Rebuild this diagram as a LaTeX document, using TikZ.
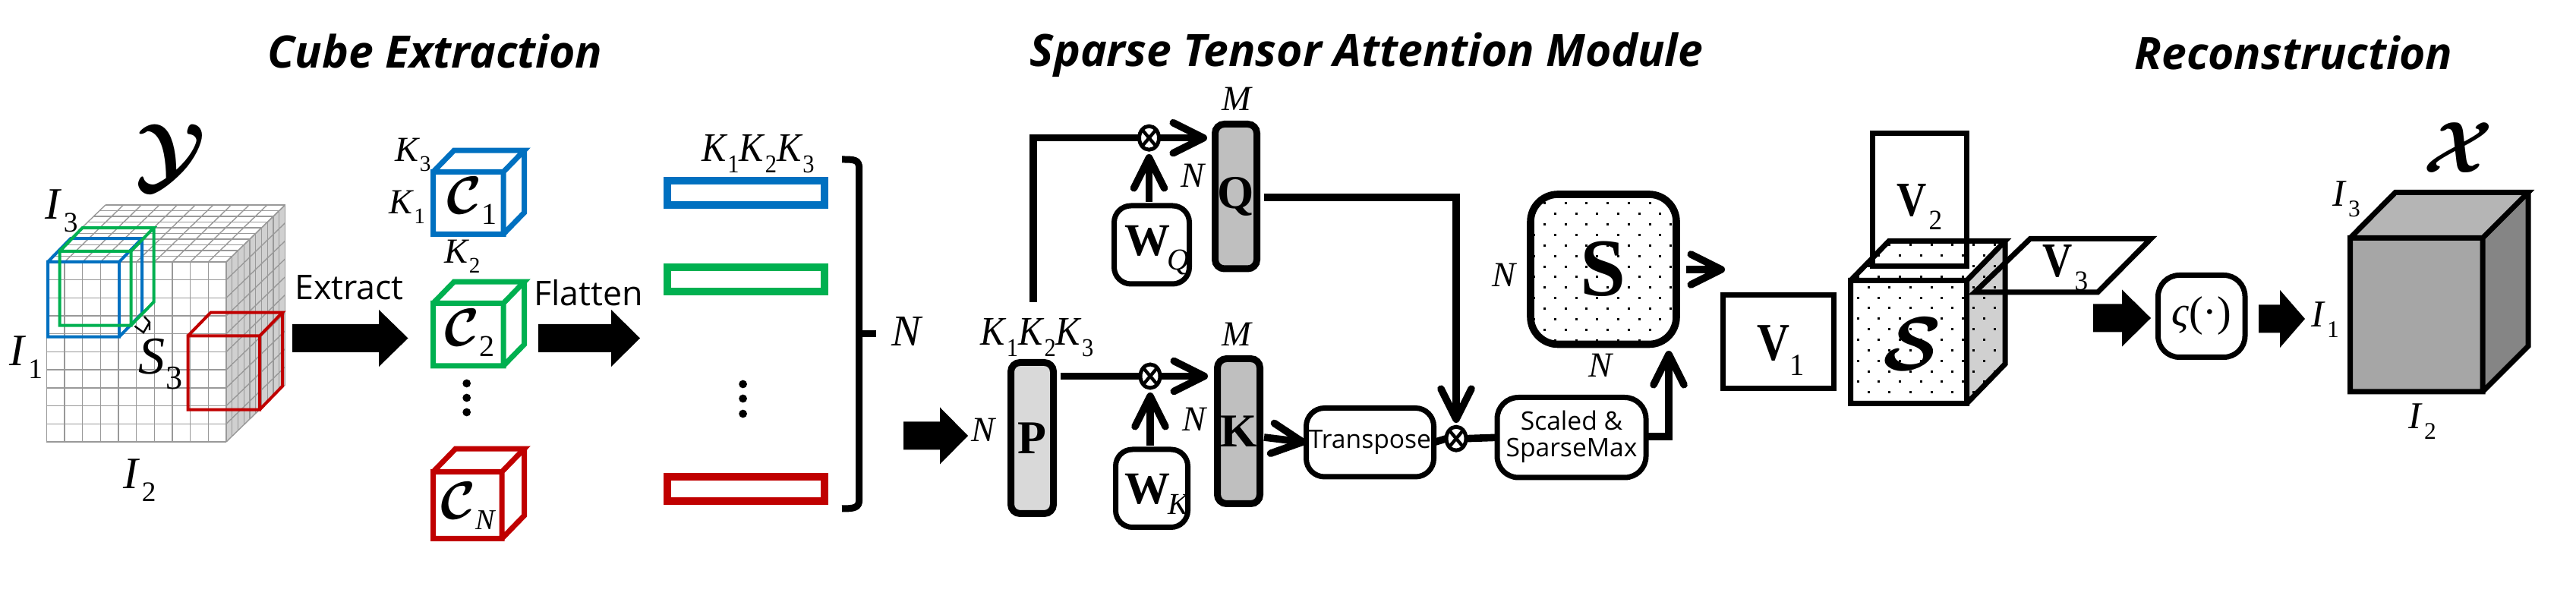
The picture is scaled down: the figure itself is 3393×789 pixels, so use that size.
\documentclass[tikz,border=0pt]{standalone}
\usepackage{amsmath}
\usepackage{fontspec}
\setmainfont{Liberation Serif}
\newfontfamily\sansf{Open Sans}
\usetikzlibrary{arrows.meta,shapes.geometric,calc}
\definecolor{cblue}{HTML}{0070C0}
\definecolor{cgreen}{HTML}{00B050}
\definecolor{cred}{HTML}{C00000}
\definecolor{gridc}{HTML}{999999}
\definecolor{sidec}{HTML}{D0D0D0}
% text helpers
\newcommand\tsub[4][0]{{\fontsize{#4pt}{#4pt}\selectfont\textit{#2}\kern#1em\raisebox{-.28em}{\scalebox{.63}{#3}}}}
\newcommand\bsub[4][0]{{\fontsize{#4pt}{#4pt}\selectfont\scalebox{.85}[1]{\textbf{#2}}\kern#1em\raisebox{-.28em}{\scalebox{.55}[.58]{#3}}}}
\newcommand\ital[2]{{\fontsize{#2pt}{#2pt}\selectfont\textit{#1}}}
\newcommand\calb[2]{\scalebox{#2}{$\boldsymbol{\mathcal{#1}}$}}
\newcommand\ksss{\scalebox{.93}[1.03]{\tsub{K}{1}{13}\tsub{K}{2}{13}\tsub{K}{3}{13}}}
% box node from centre-line corners
\newcommand\bx[7][]{%
  \pgfmathsetmacro\bxcx{(#3+#5)/2}\pgfmathsetmacro\bxcy{(#4+#6)/2}%
  \pgfmathsetmacro\bxw{(#5-#3)*0.25}\pgfmathsetmacro\bxh{(#6-#4)*0.25}%
  \node[#1,minimum width=\bxw pt,minimum height=\bxh pt] (#2) at (\bxcx,\bxcy) {#7};}
% block arrow
\newcommand\blk[6]{\fill[black] (#1,#4-#5)--(#2,#4-#5)--(#2,#4-#6)--(#3,#4)--(#2,#4+#6)--(#2,#4+#5)--(#1,#4+#5)--cycle;}
% wire cube: x1 y1 x2 y2 dx dy
\newcommand\wcube[7]{\draw[#1,line width=#7,line join=miter] (#2,#3) rectangle (#4,#5)
   (#2,#3)--(#2+#6,#3-#6*1.03)--(#4+#6,#3-#6*1.03)--(#4,#3)
   (#4+#6,#3-#6*1.03)--(#4+#6,#5-#6*1.03)--(#4,#5);}
% dot field
\newcommand\dotfield[4]{\foreach \r in {0,...,#4}{\foreach \c in {0,...,#3}{%
  \pgfmathsetmacro\dx{#1+\c*27.7+mod(\r,2)*13.85}\pgfmathsetmacro\dy{#2+\r*13.85}%
  \fill[black] (\dx-1.5,\dy-1.5) rectangle (\dx+1.5,\dy+1.5);}}}
\tikzset{
  lab/.style={anchor=base west,inner sep=0pt,outer sep=0pt},
  ctr/.style={anchor=center,inner sep=0pt,outer sep=0pt},
  title/.style={anchor=base,inner sep=0pt,font=\sansf\bfseries\itshape\fontsize{14.7pt}{14.7pt}\selectfont},
  bigsans/.style={anchor=base,inner sep=0pt,font=\sansf\fontsize{11.2pt}{11.2pt}\selectfont},
  rb/.style={draw=black,inner sep=0pt,outer sep=0pt,line width=1.75pt,rounded corners=6pt},
  col/.style={draw=black,inner sep=0pt,outer sep=0pt,line width=2.25pt,rounded corners=3pt,font=\bfseries\fontsize{15.5pt}{15.5pt}\selectfont},
  sq/.style={draw=black,inner sep=0pt,outer sep=0pt,line width=1.75pt},
  bar/.style={draw,inner sep=0pt,outer sep=0pt,line width=2.5pt},
  ot/.style={ellipse,draw=black,fill=white,line width=1.25pt,inner sep=0pt,outer sep=0pt,minimum width=6.5pt,minimum height=7.75pt,
    path picture={\draw[line width=1.1pt] (path picture bounding box.north west)--(path picture bounding box.south east)
      (path picture bounding box.north east)--(path picture bounding box.south west);}},
  conn/.style={draw=black,line width=2.4pt,line join=miter},
  arr/.style={conn,-{Straight Barb[round,length=10pt,width=10pt]}},
}
\begin{document}
\begin{tikzpicture}[x=0.25pt,y=-0.25pt]
\useasboundingbox (0,0) rectangle (3393,789);
% titles
\node[title] (t1) at (573,90) {Cube Extraction};
\node[title] (t2) at (1800,88) {Sparse Tensor Attention Module};
\node[title] (t3) at (3021,92) {Reconstruction};

% ===== big grid cube
\fill[sidec] (298,345)--(375.5,270)--(375.5,507)--(298,582)--cycle;
\foreach \i in {0,...,10}{
  \pgfmathsetmacro\xx{61.4+\i*23.66}\pgfmathsetmacro\yy{345+\i*23.7}
  \pgfmathsetmacro\dxx{\i*7.75}\pgfmathsetmacro\dyy{\i*7.5}
  \draw[gridc,line width=.35pt] (\xx,345)--(\xx,582);
  \draw[gridc,line width=.35pt] (61.4,\yy)--(298,\yy);
  \draw[gridc,line width=.35pt] (\xx,345)--(\xx+77.5,270);
  \draw[gridc,line width=.35pt] (61.4+\dxx,345-\dyy)--(298+\dxx,345-\dyy);
  \draw[gridc,line width=.35pt] (298+\dxx,345-\dyy)--(298+\dxx,582-\dyy);
  \draw[gridc,line width=.35pt] (298,\yy)--(375.5,\yy-75);
}
\wcube{cblue}{63}{345}{157}{443.6}{30}{1pt}
\wcube{cgreen}{78.6}{331}{172.5}{428.6}{30}{1pt}
\wcube{cred}{247.5}{442.5}{342}{539.6}{30}{1pt}
\draw[black,line width=.6pt] (177.5,429.5)--(189,438)--(197,424.5)--(190,417) (197,424.5)--(197,435);
\node[ctr] (Y) at (225,207) {\calb{Y}{2.75}};
\node[lab] (i3a) at (59,289) {\tsub[.05]{I}{3}{14.8}};
\node[lab] (i1a) at (12.5,482) {\tsub[.05]{I}{1}{14.8}};
\node[lab] (s3) at (182,492.5) {\tsub[.02]{S}{3}{17.5}};
\node[lab] (i2a) at (162,644) {\tsub[.05]{I}{2}{14.8}};
\node[bigsans] (extract) at (460,395) {Extract};
\blk{385}{499}{537.5}{445.5}{18.5}{37.5}

% ===== small cubes
\wcube{cblue}{570.5}{226.5}{663}{308.4}{27.6}{1.75pt}
\wcube{cgreen}{570.5}{399.5}{663}{482}{27.6}{1.75pt}
\wcube{cred}{570.5}{621.5}{661}{709.5}{29.6}{1.75pt}
\node[lab] (k3) at (520,213) {\tsub{K}{3}{11.6}};
\node[lab] (k1) at (512.5,282) {\tsub{K}{1}{11.6}};
\node[lab] (k2) at (585,347) {\tsub{K}{2}{11.6}};
\node[lab] (c1) at (588,282) {\calb{C}{1.75}\raisebox{-3.4pt}{\fontsize{10pt}{10pt}\selectfont 1}};
\node[lab] (c2) at (585,456) {\calb{C}{1.75}\raisebox{-3.4pt}{\fontsize{10pt}{10pt}\selectfont 2}};
\node[lab] (cn) at (580,684) {\calb{C}{1.75}\raisebox{-3.5pt}{\fontsize{9.5pt}{9.5pt}\selectfont\textit{N}}};
\foreach \y in {505,524,543}{\fill (614.7,\y) circle[radius=1.35pt];}
\node[bigsans] (flatten) at (775,402.6) {Flatten};
\blk{709}{805}{843}{445.5}{18.5}{37.5}

% ===== flattened bars
\bx[bar,draw=cblue]{b1}{879}{238}{1086}{270}{}
\bx[bar,draw=cgreen]{b2}{879}{352}{1086}{384}{}
\bx[bar,draw=cred]{b3}{879}{628}{1086}{660}{}
\node[lab] (ks1) at (924,213) {\ksss};
\foreach \y in {506,525,545}{\fill (978.6,\y) circle[radius=1.35pt];}
\draw[line width=2.25pt] (1109,210) .. controls (1125,210) and (1131.7,210) .. (1131.7,222) -- (1131.7,658) .. controls (1131.7,669) and (1125,670) .. (1109,670);
\draw[line width=2.25pt] (1129,440)--(1154,440);
\node[lab] (nb) at (1174,456) {\ital{N}{14.5}};

% ===== attention module
\blk{1190}{1238}{1275}{574}{18.5}{37.5}
\node[lab] (np) at (1279,581.6) {\ital{N}{11.6}};
\node[lab] (ks2) at (1291.6,454.5) {\ksss};
\bx[col,fill=black!15]{P}{1331.5}{477.5}{1387.5}{676.5}{P}
\bx[col,fill=black!25]{Q}{1600.5}{163.5}{1655.5}{354}{Q}
\bx[col,fill=black!25]{K}{1603.5}{472.5}{1659.5}{663.5}{K}
\node[lab] (mq) at (1609,146) {\ital{M}{11.6}};
\node[lab] (mk) at (1609,456) {\ital{M}{11.6}};
\node[lab] (nq) at (1555,247) {\ital{N}{11.6}};
\node[lab] (nk) at (1557,568) {\ital{N}{11.6}};
\bx[rb,rounded corners=5.5pt]{WQ}{1467.5}{271}{1566.5}{374}{}
\bx[rb,rounded corners=5.5pt]{WK}{1469.5}{592}{1564.5}{694.5}{}
\node[lab] (wq) at (1481,336.6) {\textbf{\fontsize{15pt}{15pt}\selectfont W}};
\node[lab] (wqs) at (1537,356) {\ital{Q}{10}};
\node[lab] (wk) at (1481,664) {\textbf{\fontsize{15pt}{15pt}\selectfont W}};
\node[lab] (wks) at (1538,678) {\ital{K}{10}};
\node[ot] (o1) at (1513.5,181.7) {};
\node[ot] (o2) at (1515,495.5) {};
\node[ot] (o3) at (1918,577.7) {};
\coordinate (pup) at (1361,398);
\coordinate (pr) at (1396.5,495.5);
\coordinate (q1) at (1590,181.7);
\coordinate (k1in) at (1591,495.5);
\coordinate (qr) at (1665,260);
\coordinate (kr) at (1665,576);
\coordinate (otin) at (1918,557);
\coordinate (wqin) at (1513.5,266);
\coordinate (wkin) at (1515,587);
\coordinate (o1in) at (1513.5,203);
\coordinate (o2in) at (1515,517);
\draw[conn] (pup) |- (o1.west);
\draw[arr] (o1.east)--(q1);
\draw[conn] (pr)--(o2.west);
\draw[arr] (o2.east)--(k1in);
\draw[arr] (wqin)--(o1in);
\draw[arr] (wkin)--(o2in);
\bx[rb]{T}{1720.5}{537.5}{1888.5}{628}{\sansf\fontsize{8.4pt}{8.4pt}\selectfont Transpose}
\draw[arr] (kr)--(T.west);
\draw[arr] (qr)-|(otin);
\draw[conn] (T.east)--(o3.west);
\bx[rb,rounded corners=7pt]{SM}{1972}{523.5}{2168}{629}{\sansf\fontsize{8.4pt}{9.6pt}\selectfont\begin{tabular}{@{}c@{}}Scaled \&\\[-1pt]SparseMax\end{tabular}}
\draw[conn] (o3.east)--(SM.west);
% S matrix
\begin{scope}
\clip[rounded corners=9pt] (2016,256) rectangle (2208,453.5);
\dotfield{1993}{254.15}{9}{15}
\end{scope}
\bx[draw=black,inner sep=0pt,outer sep=0pt,line width=2.4pt,rounded corners=9pt]{S}{2016}{256}{2208}{453.5}{\textbf{\fontsize{27pt}{27pt}\selectfont S}}
\node[lab] (ns1) at (1965,378) {\ital{N}{11.6}};
\node[lab] (ns2) at (2092,496.7) {\ital{N}{11.6}};
\coordinate (smr) at (2171,575);
\coordinate (sin) at (2198,462);
\draw[arr] (smr)-|(sin);
\coordinate (sr) at (2220.5,355);
\coordinate (vin) at (2272,355);
\draw[arr] (sr)--(vin);

% ===== V1
\bx[sq]{V1}{2269.5}{388.5}{2415.5}{512}{}
\node[lab] (v1t) at (2314,475) {\bsub{V}{1}{17.5}};
% ===== core cube
\fill[sidec] (2590.5,369.5)--(2641,317.5)--(2641,479.5)--(2590.5,531.5)--cycle;
\begin{scope}
\clip (2437.5,369.5)--(2488,317.5)--(2641,317.5)--(2641,479.5)--(2590.5,531.5)--(2437.5,531.5)--cycle;
\dotfield{2433.3}{295.2}{8}{18}
\end{scope}
\draw[line width=1.75pt,line join=miter] (2437.5,369.5) rectangle (2590.5,531.5)
  (2437.5,369.5)--(2488,317.5)--(2641,317.5)--(2590.5,369.5)
  (2641,317.5)--(2641,479.5)--(2590.5,531.5);
\node[lab] (core) at (2480,488) {\calb{S}{2.5}};
\bx[sq]{V2}{2466.5}{176}{2590}{351}{}
\node[lab] (v2t) at (2498,285) {\bsub[.05]{V}{2}{16}};
\draw[line width=1.75pt,line join=miter] (2674,314.5)--(2833,314.5)--(2763,385)--(2601,385)--cycle;
\node[lab] (v3t) at (2690,365) {\bsub[.05]{V}{3}{16}};
\blk{2757}{2795}{2833}{419}{18.5}{37.5}
\bx[rb,rounded corners=7pt]{F}{2842.5}{362.5}{2957}{470.5}{\fontsize{14pt}{14pt}\selectfont\textit{ς}(·)}
\blk{2975}{3003}{3036}{420}{18.5}{38}
% ===== X cube
\fill[black!29] (3095.5,313.5)--(3155,253.5)--(3330,253.5)--(3270,313.5)--cycle;
\fill[black!35] (3095.5,313.5) rectangle (3270,516);
\fill[black!48] (3270,313.5)--(3330,253.5)--(3330,456)--(3270,516)--cycle;
\draw[line width=1.75pt,line join=miter] (3095.5,313.5) rectangle (3270,516)
  (3095.5,313.5)--(3155,253.5)--(3330,253.5)--(3270,313.5)
  (3330,253.5)--(3330,456)--(3270,516);
\node[ctr] (X) at (3238,195) {\calb{X}{2.4}};
\node[lab] (i3b) at (3072,272) {\tsub[.05]{I}{3}{12.5}};
\node[lab] (i1b) at (3044,431) {\tsub[.05]{I}{1}{12.5}};
\node[lab] (i2b) at (3172,565) {\tsub[.05]{I}{2}{12.5}};
\end{tikzpicture}
\end{document}
